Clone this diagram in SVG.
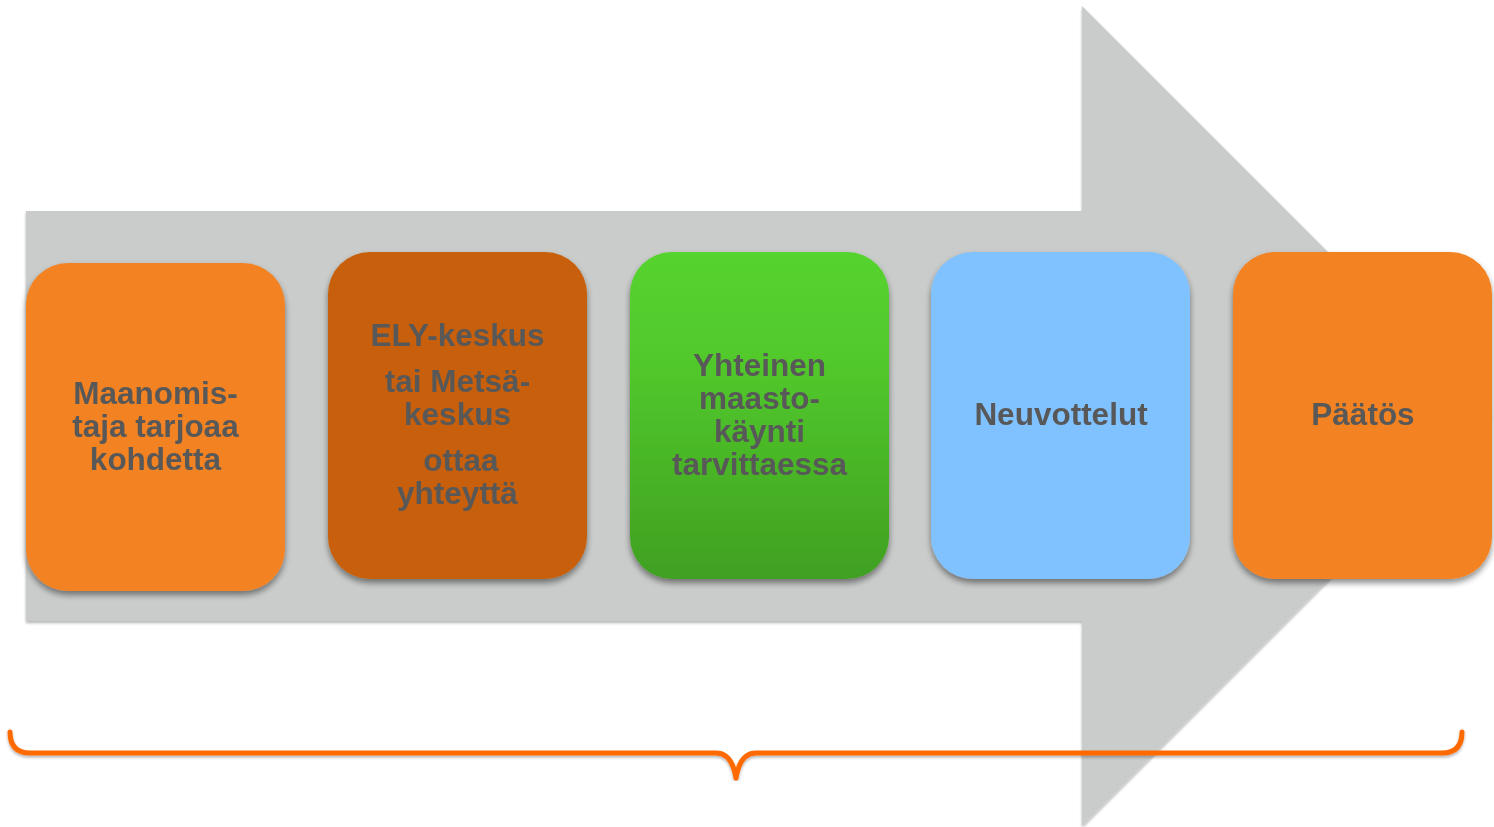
<svg xmlns="http://www.w3.org/2000/svg" width="1494" height="827" viewBox="0 0 1494 827">
<defs>
<style>
.t{font-family:"Liberation Sans",Arial,sans-serif;font-weight:bold;font-size:31.5px;fill:#595959;text-anchor:middle}
.box{filter:url(#sh)}
</style>
<filter id="sh" x="-10%" y="-10%" width="120%" height="125%">
<feGaussianBlur in="SourceAlpha" stdDeviation="3"/>
<feOffset dx="0" dy="4" result="b"/>
<feComponentTransfer><feFuncA type="linear" slope="0.45"/></feComponentTransfer>
<feMerge><feMergeNode/><feMergeNode in="SourceGraphic"/></feMerge>
</filter>
<filter id="ash" x="-5%" y="-5%" width="110%" height="110%">
<feGaussianBlur in="SourceAlpha" stdDeviation="1.5"/>
<feOffset dx="0" dy="1.5"/>
<feComponentTransfer><feFuncA type="linear" slope="0.3"/></feComponentTransfer>
<feMerge><feMergeNode/><feMergeNode in="SourceGraphic"/></feMerge>
</filter>
<linearGradient id="g3" x1="0" y1="0" x2="0" y2="1">
<stop offset="0" stop-color="#55D32F"/>
<stop offset="0.35" stop-color="#51C82C"/>
<stop offset="1" stop-color="#40A021"/>
</linearGradient>
</defs>
<rect width="1494" height="827" fill="#FFFFFF"/>
<g id="arrow">
<path d="M26 211 L1082 211 L1082 6 L1492 416 L1082 826 L1082 621 L26 621 Z" fill="#CACCCB" filter="url(#ash)"/>
</g>
<g id="connectors">
<path d="M10 732 Q10 753 30 753 L716 753 Q732 753 736 778 Q740 753 756 753 L1442 753 Q1462 753 1462 732" fill="none" stroke="#FF6A00" stroke-width="5" stroke-linecap="round" stroke-linejoin="round" filter="url(#ash)"/>
</g>
<g id="node1" class="box">
<rect x="26" y="263" width="259" height="328" rx="42" fill="#F38321"/>
<text class="t" x="155.5" y="404">Maanomis-</text>
<text class="t" x="155.5" y="437">taja tarjoaa</text>
<text class="t" x="155.5" y="470">kohdetta</text>
</g>
<g id="node2" class="box">
<rect x="328" y="252" width="259" height="327" rx="42" fill="#C75F09"/>
<text class="t" x="457.5" y="346">ELY-keskus</text>
<text class="t" x="457.5" y="392">tai Metsä-</text>
<text class="t" x="457.5" y="425">keskus</text>
<text class="t" x="461" y="471">ottaa</text>
<text class="t" x="457.5" y="504">yhteyttä</text>
</g>
<g id="node3" class="box">
<rect x="630" y="252" width="259" height="327" rx="42" fill="url(#g3)"/>
<text class="t" x="759.5" y="376">Yhteinen</text>
<text class="t" x="759.5" y="409">maasto-</text>
<text class="t" x="759.5" y="442">käynti</text>
<text class="t" x="759.5" y="475">tarvittaessa</text>
</g>
<g id="node4" class="box">
<rect x="931" y="252" width="259" height="327" rx="42" fill="#80C1FF"/>
<text class="t" x="1061" y="425">Neuvottelut</text>
</g>
<g id="node5" class="box">
<rect x="1233" y="252" width="259" height="327" rx="42" fill="#F38321"/>
<text class="t" x="1363" y="425">Päätös</text>
</g>
</svg>
